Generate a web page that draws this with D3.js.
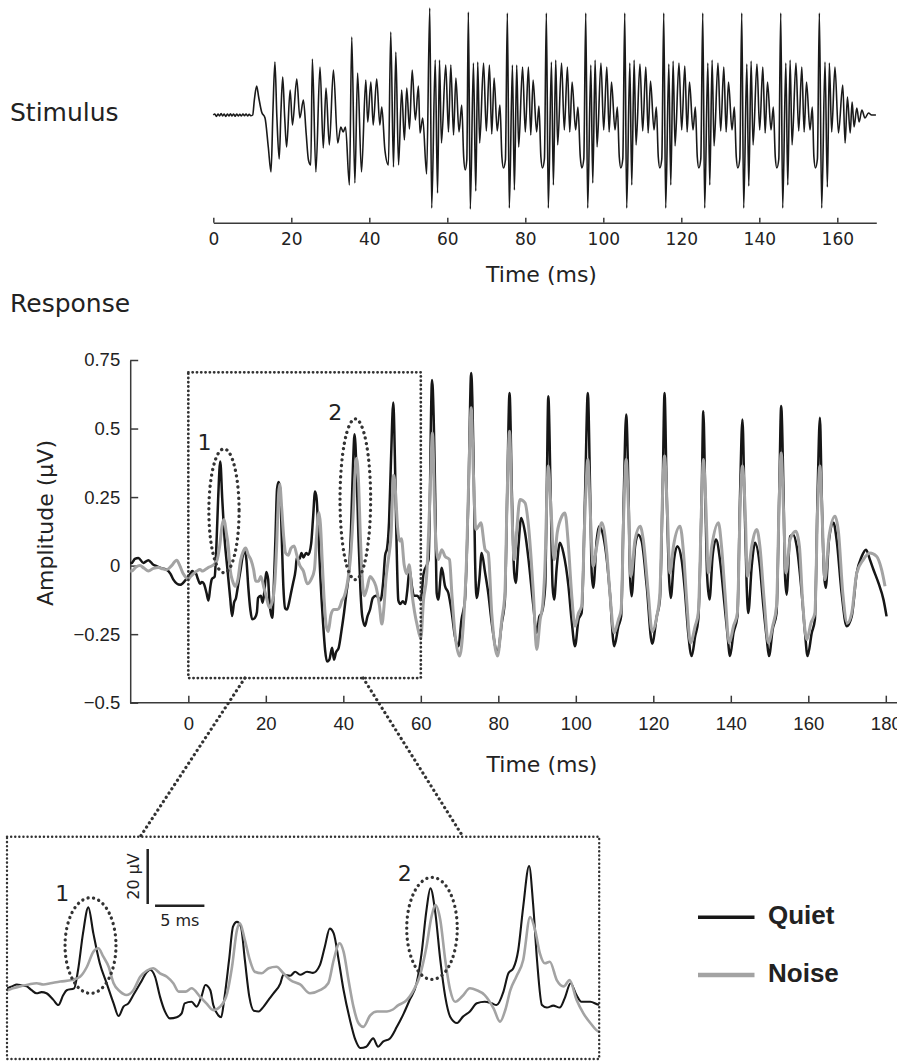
<!DOCTYPE html>
<html>
<head>
<meta charset="utf-8">
<title>stimulus and response</title>
<script src="https://d3js.org/d3.v7.min.js"></script>
<style>
  body { margin: 0; background: #fff; }
  text { fill: #222; }
</style>
</head>
<body>
<svg width="897" height="1061"></svg>
<script>

// stimulus waveform, [time ms, relative amplitude]
var stimulus = [
  [0,0],[0.4,0.01],[0.8,-0.015],[1.2,0.01],[1.6,-0.01],[2.0,0.015],[2.4,-0.01],[2.8,0.01],[3.2,-0.015],[3.6,0.01],
  [4.0,-0.01],[4.4,0.012],[4.8,-0.01],[5.2,0.01],[5.6,-0.012],[6.0,0.01],[6.4,-0.01],[6.8,0.008],[7.2,-0.01],[7.6,0.01],
  [8.0,-0.008],[8.4,0.01],[8.8,-0.01],[9.2,0.008],[9.6,-0.008],[10.1,0.0],
  [10.52,0.15],[11.12,0.29],[11.63,0.18],[12.4,0.03],[13.26,-0.03],[14.1,-0.32],[14.8,-0.57],[15.3,0.05],[15.8,0.53],
  [16.3,-0.02],[16.9,-0.44],[17.36,0.05],[17.8,0.38],[18.3,-0.02],[18.8,-0.32],[19.7,0.25],[20.3,-0.10],[21.4,0.36],
  [22.2,-0.03],[23.1,0.15],[23.8,-0.18],[24.4,-0.45],[25.0,-0.50],[25.4,0.56],[26.3,-0.57],[27.36,0.48],[28.2,-0.33],
  [28.9,0.27],[29.75,-0.30],[30.8,0.45],[31.9,-0.28],[32.7,-0.12],[33.3,-0.17],[33.9,-0.12],[34.9,-0.70],[35.5,0.78],
  [36.3,-0.68],[37.0,0.42],[38.0,-0.57],[39.1,0.35],[39.6,-0.07],[40.4,0.33],[41.0,-0.10],[41.9,0.36],[42.7,-0.10],
  [43.2,0.08],[44.0,-0.35],[44.9,-0.50],[45.5,0.83],[46.2,-0.52],[46.8,0.63],[47.5,-0.50],[48.3,0.25],[49.0,-0.25],
  [49.6,0.27],[50.3,-0.14],[51.0,0.45],[51.8,-0.05],[52.6,0.29],[53.0,-0.18],[53.7,-0.03],[54.7,-0.59],
  [55.5,1.07],[56.0,-0.93],[56.9,0.55],[57.5,-0.78],[58.0,0.55],[58.5,-0.28],[59.6,0.50],[60.3,-0.17],[60.9,0.50],[61.6,-0.20],[62.2,0.37],[63.0,-0.17],[63.7,0.10],[64.2,-0.42],[64.6,-0.55],[65.0,-0.45],
  [65.4,1.03],[65.9,-0.94],[66.7,0.52],[67.3,-0.76],[67.8,0.53],[68.3,-0.28],[69.3,0.52],[70.0,-0.16],[70.8,0.50],[71.4,-0.19],[72.0,0.37],[72.8,-0.16],[73.5,0.10],[74.0,-0.42],[74.4,-0.53],[74.9,-0.45],
  [75.4,1.02],[75.9,-0.93],[76.7,0.50],[77.2,-0.75],[77.8,0.50],[78.3,-0.32],[79.3,0.48],[80.0,-0.17],[80.8,0.48],[81.4,-0.20],[82.0,0.35],[82.9,-0.17],[83.5,0.09],[84.0,-0.42],[84.4,-0.53],[84.9,-0.44],
  [85.4,1.02],[85.9,-0.93],[86.7,0.53],[87.2,-0.70],[87.8,0.55],[88.3,-0.30],[89.3,0.52],[90.0,-0.15],[90.8,0.48],[91.4,-0.17],[92.0,0.33],[92.9,-0.15],[93.5,0.08],[94.1,-0.42],[94.5,-0.53],[95.0,-0.44],
  [95.5,1.02],[96.0,-0.93],[96.8,0.50],[97.3,-0.68],[97.9,0.55],[98.4,-0.32],[99.4,0.52],[100.1,-0.15],[100.9,0.48],[101.5,-0.17],[102.1,0.33],[103.0,-0.15],[103.6,0.08],[104.1,-0.42],[104.5,-0.53],[105.0,-0.44],
  [105.5,1.02],[106.0,-0.93],[106.8,0.52],[107.3,-0.70],[107.9,0.55],[108.4,-0.30],[109.4,0.51],[110.1,-0.16],[110.9,0.48],[111.5,-0.18],[112.1,0.34],[113.0,-0.15],[113.6,0.08],[114.1,-0.42],[114.5,-0.53],[115.0,-0.44],
  [115.5,1.02],[116.0,-0.93],[116.8,0.51],[117.3,-0.70],[117.9,0.54],[118.4,-0.31],[119.4,0.52],[120.1,-0.15],[120.9,0.49],[121.5,-0.17],[122.1,0.33],[123.0,-0.15],[123.6,0.08],[124.1,-0.42],[124.5,-0.53],[125.0,-0.44],
  [125.5,1.02],[126.0,-0.93],[126.8,0.52],[127.3,-0.70],[127.9,0.55],[128.4,-0.31],[129.4,0.52],[130.1,-0.16],[130.9,0.48],[131.5,-0.17],[132.1,0.33],[133.0,-0.15],[133.6,0.08],[134.1,-0.42],[134.5,-0.53],[135.0,-0.44],
  [135.5,1.02],[136.0,-0.93],[136.8,0.51],[137.3,-0.71],[137.9,0.54],[138.4,-0.30],[139.4,0.51],[140.1,-0.15],[140.9,0.48],[141.5,-0.18],[142.1,0.33],[143.0,-0.15],[143.6,0.08],[144.1,-0.42],[144.5,-0.53],[145.0,-0.44],
  [145.5,1.02],[146.0,-0.93],[146.8,0.52],[147.3,-0.70],[147.9,0.55],[148.4,-0.30],[149.4,0.52],[150.1,-0.16],[150.9,0.48],[151.5,-0.17],[152.1,0.33],[153.0,-0.15],[153.6,0.08],[154.0,-0.42],[154.4,-0.53],[154.9,-0.44],
  [155.4,1.02],[156.0,-0.93],[156.85,0.53],[157.45,-0.72],[157.96,0.52],[158.56,-0.17],[159.4,0.48],[160.3,-0.18],[161.4,0.30],
  [162.0,-0.28],[162.6,0.18],[163.3,-0.18],[163.8,0.13],[164.3,-0.12],[165.0,0.07],[165.6,-0.07],[166.3,0.05],[167.1,-0.03],
  [168.0,0.02],[168.8,0],[169.9,0]
];

// response in quiet, [time ms, amplitude]
var quiet = [
  [-15,0.01],[-14.6,0.01],[-13.8,0.025],[-12.9,0.028],[-11.6,0.01],[-10.3,0.02],[-9.2,0.005],[-8.2,-0.002],[-6.8,-0.01],
  [-5.6,-0.015],[-4.6,-0.03],[-3.9,-0.05],[-2.1,-0.07],[-0.85,-0.055],[0,-0.04],
  [0.5,-0.03],[1.0,-0.02],[1.5,-0.025],[2.0,-0.03],[2.5,-0.05],[3.0,-0.066],[3.5,-0.06],[4.0,-0.066],[4.7,-0.10],[5.2,-0.127],
  [5.7,-0.075],[6.05,-0.05],[6.8,-0.04],[7.2,0.055],[7.7,0.245],[8.24,0.38],[8.75,0.245],[9.4,0.09],[10.1,-0.014],[10.8,-0.118],
  [11.3,-0.184],[11.8,-0.135],[12.3,-0.118],[12.8,-0.075],[13.5,-0.014],[14.2,0.046],[14.5,0.056],[15.0,0.02],[15.5,-0.083],
  [16.0,-0.16],[16.5,-0.196],[17.2,-0.19],[17.7,-0.17],[18.0,-0.118],[18.7,-0.11],[19.2,-0.135],[19.7,-0.083],[20.1,-0.023],
  [20.6,-0.05],[20.9,-0.127],[21.4,-0.18],[21.7,-0.19],[22.0,-0.10],[22.5,0.107],[22.9,0.28],[23.3,0.305],[23.7,0.28],
  [24.1,0.107],[24.55,-0.083],[25.0,-0.156],[25.5,-0.16],[26.0,-0.135],[26.5,-0.10],[27.0,-0.066],[27.7,-0.014],[28.0,0.03],
  [28.7,0.025],[29.2,0.046],[29.7,0.03],[30.4,0.046],[31.0,0.04],[31.7,0.08],[32.2,0.176],[32.7,0.27],[33.1,0.245],[33.6,0.107],
  [34.1,-0.049],[34.75,-0.204],[35.3,-0.308],[35.8,-0.35],[36.4,-0.343],[37.1,-0.30],[37.6,-0.343],[38.1,-0.317],[38.8,-0.30],
  [39.5,-0.24],[40.2,-0.17],[40.8,-0.10],[41.5,-0.014],[42.0,0.14],[42.5,0.366],[42.9,0.479],[43.4,0.35],[43.9,0.107],
  [44.4,-0.083],[44.9,-0.187],[45.6,-0.22],[46.2,-0.187],[46.9,-0.16],[47.6,-0.118],[48.4,-0.11],[49.1,-0.118],[49.6,-0.127],
  [50.3,-0.057],[50.8,0.038],[51.3,0.064],[51.8,0.159],[52.3,0.383],[52.9,0.595],[53.3,0.40],[53.7,0.107],[54.2,-0.127],
  [54.7,-0.14],[55.35,-0.13],[56.0,-0.14],[56.5,-0.092],[57.1,-0.014],[57.7,-0.075],[58.2,-0.11],[59.1,-0.11],[60.0,-0.125],
  [60.7,-0.03],[62.0,0.022],[62.9,0.677],[63.7,0.265],[64.1,-0.10],[64.5,-0.124],[65.4,-0.008],[66.25,-0.075],[67.1,-0.1],
  [68.0,-0.173],[68.8,-0.258],[69.7,-0.294],[70.5,-0.197],[71.4,-0.124],[72.3,0.265],[73.0,0.703],[73.6,0.387],[74.0,0.022],
  [74.4,-0.118],[75.1,-0.051],[75.7,0.046],[76.6,-0.027],[77.4,-0.1],[78.3,-0.209],[79.8,-0.318],[80.9,-0.209],[81.7,-0.124],
  [82.3,0.265],[82.9,0.63],[83.5,0.265],[84.1,-0.027],[84.5,-0.063],[85.2,0.071],[85.9,0.174],[86.9,0.12],[87.8,0.022],
  [89.05,-0.148],[89.9,-0.245],[90.6,-0.185],[91.2,-0.173],[92.1,-0.075],[92.5,0.265],[92.9,0.618],[93.5,0.265],[94.0,-0.075],
  [94.4,-0.124],[95.1,-0.002],[95.9,0.083],[96.8,0.046],[98.1,-0.075],[98.9,-0.197],[99.8,-0.294],[100.7,-0.197],[101.5,-0.173],
  [102.4,0.265],[103.1,0.63],[103.7,0.265],[104.1,-0.027],[104.5,-0.081],[105.4,0.095],[106.0,0.144],[107.1,0.107],[108.0,0.022],
  [108.8,-0.1],[109.9,-0.294],[111.0,-0.221],[111.7,-0.185],[112.4,0.265],[113.0,0.551],[113.6,0.265],[114.0,-0.039],
  [114.4,-0.112],[115.3,0.071],[116.1,0.113],[117.0,0.089],[118.3,-0.075],[119.7,-0.285],[120.9,-0.185],[121.7,-0.124],
  [122.4,0.265],[122.9,0.63],[123.45,0.265],[124.05,-0.039],[124.5,-0.118],[125.35,0.022],[126.2,0.071],[127.3,0.022],
  [128.2,-0.1],[129.0,-0.245],[129.9,-0.33],[130.8,-0.258],[131.6,-0.197],[132.5,0.265],[132.9,0.563],[133.4,0.265],
  [133.9,-0.039],[134.5,-0.124],[135.3,0.034],[136.2,0.095],[137.2,0.022],[138.25,-0.124],[139.1,-0.245],[139.8,-0.33],
  [140.7,-0.245],[141.7,-0.185],[142.4,0.265],[143.0,0.533],[143.5,0.265],[144.1,-0.075],[144.5,-0.173],[145.4,-0.002],
  [146.25,0.083],[147.4,0.01],[148.4,-0.148],[149.3,-0.27],[149.85,-0.33],[150.8,-0.233],[151.8,-0.173],[152.5,0.265],
  [153.0,0.582],[153.6,0.265],[154.0,-0.039],[154.4,-0.106],[155.3,0.107],[156.1,0.113],[157.0,0.071],[158.3,-0.1],
  [159.15,-0.245],[159.8,-0.33],[160.9,-0.245],[161.7,-0.197],[162.4,0.265],[163.0,0.539],[163.45,0.265],[164.05,-0.027],
  [164.5,-0.081],[165.35,0.095],[166.5,0.156],[167.3,0.095],[168.6,-0.1],[169.9,-0.221],[171.2,-0.185],[172.5,-0.027],
  [173.8,0.034],[174.9,0.058],[175.9,0.022],[176.8,-0.014],[178.1,-0.063],[179.4,-0.124],[180.2,-0.185]
];

// response in noise, [time ms, amplitude]
var noise = [
  [-15,-0.02],[-14.6,-0.02],[-13.5,-0.005],[-12.5,0],[-11.4,-0.01],[-10.3,-0.02],[-9.0,-0.01],[-7.7,-0.007],[-6.6,-0.012],
  [-5.6,-0.015],[-4.3,0.0],[-3.0,0.02],[-2.2,0.0],[-1.3,-0.03],[-0.5,-0.045],
  [0,-0.05],[0.6,-0.04],[1.3,-0.03],[2.2,-0.02],[3.0,-0.014],[3.7,-0.02],[4.4,-0.014],[5.4,-0.005],[6.55,0.003],[7.4,0.02],
  [8.1,0.072],[8.75,0.15],[9.25,0.168],[9.76,0.124],[10.3,0.072],[10.8,-0.014],[11.45,-0.057],[12.1,-0.075],[12.8,-0.05],
  [13.5,0.02],[14.15,0.051],[14.8,0.064],[15.5,0.038],[16.2,0.02],[16.85,-0.014],[17.4,-0.057],[18.1,-0.057],[18.7,-0.04],
  [19.55,-0.083],[20.2,-0.118],[20.9,-0.153],[21.6,-0.135],[22.3,-0.066],[22.8,0.072],[23.3,0.263],[23.6,0.297],[24.1,0.21],
  [24.6,0.107],[25.1,0.046],[25.8,0.038],[26.5,0.064],[27.3,0.072],[28.0,0.038],[28.7,0.003],[29.7,-0.02],[30.7,-0.066],
  [31.7,-0.05],[32.55,-0.014],[33.1,0.107],[33.7,0.194],[34.1,0.15],[34.6,0.003],[35.1,-0.135],[35.6,-0.22],[36.1,-0.24],
  [36.8,-0.18],[37.5,-0.16],[38.5,-0.16],[39.1,-0.15],[39.65,-0.127],[40.3,-0.11],[41.2,-0.049],[41.8,0.02],[42.5,0.176],
  [43.0,0.33],[43.4,0.392],[43.9,0.315],[44.4,0.107],[44.9,-0.049],[45.4,-0.11],[46.1,-0.083],[46.9,-0.04],[47.6,-0.05],
  [48.4,-0.075],[49.3,-0.144],[49.95,-0.213],[50.5,-0.15],[51.0,-0.049],[51.6,0.02],[52.3,0.107],[53.0,0.33],[53.5,0.263],
  [54.0,0.14],[54.5,0.09],[55.0,0.098],[55.7,0.003],[56.4,-0.03],[57.0,0.003],[57.7,-0.10],[58.4,-0.17],[59.1,-0.22],[60.0,-0.265],
  [60.7,-0.124],[61.5,-0.039],[62.4,0.265],[63.0,0.484],[63.7,0.144],[64.5,0.022],[65.4,0.058],[66.25,0.034],[67.4,0.022],
  [68.0,-0.1],[68.8,-0.245],[70.0,-0.33],[71.0,-0.209],[71.8,0.022],[72.5,0.387],[73.0,0.576],[73.6,0.326],[74.2,0.132],
  [74.9,0.144],[75.5,0.156],[76.6,0.058],[77.4,0.046],[78.3,-0.173],[79.8,-0.33],[80.9,-0.197],[81.7,-0.1],[82.3,0.265],
  [82.9,0.49],[83.5,0.205],[84.1,0.022],[84.7,0.12],[85.6,0.241],[86.9,0.229],[87.8,0.144],[89.05,-0.1],[89.9,-0.306],
  [90.8,-0.197],[91.5,-0.136],[92.1,0.022],[92.5,0.241],[92.9,0.363],[93.6,0.205],[94.4,0.022],[95.2,0.12],[96.4,0.18],
  [97.2,0.192],[98.1,0.071],[98.9,-0.1],[99.8,-0.221],[100.7,-0.173],[101.5,-0.148],[102.4,0.205],[103.1,0.387],[103.7,0.205],
  [104.5,-0.002],[105.4,0.071],[106.7,0.156],[108.0,0.046],[108.8,-0.1],[109.9,-0.245],[111.0,-0.197],[111.7,-0.16],
  [112.4,0.205],[113.0,0.387],[113.6,0.205],[114.2,-0.039],[115.3,0.095],[116.6,0.144],[117.4,0.095],[118.7,-0.1],
  [119.7,-0.24],[120.9,-0.185],[121.7,-0.1],[122.4,0.265],[122.9,0.40],[123.6,0.205],[124.3,-0.027],[125.2,0.071],
  [126.9,0.144],[127.8,0.046],[128.6,-0.124],[129.6,-0.282],[130.8,-0.221],[131.6,-0.173],[132.5,0.241],[132.9,0.387],
  [133.6,0.205],[134.2,-0.027],[135.1,0.071],[136.8,0.156],[137.6,0.071],[138.5,-0.1],[139.6,-0.282],[140.7,-0.221],
  [141.7,-0.173],[142.4,0.205],[143.0,0.363],[143.7,0.205],[144.3,-0.039],[145.4,0.071],[146.7,0.132],[147.5,0.071],
  [148.6,-0.124],[149.7,-0.282],[150.8,-0.221],[151.8,-0.148],[152.5,0.241],[153.0,0.411],[153.6,0.205],[154.25,-0.027],
  [155.3,0.095],[156.8,0.125],[157.7,0.071],[158.5,-0.124],[159.6,-0.27],[160.7,-0.209],[161.7,-0.173],[162.4,0.205],
  [163.0,0.363],[163.6,0.168],[164.3,-0.051],[165.35,0.107],[166.9,0.18],[167.8,0.12],[168.9,-0.1],[170.1,-0.209],
  [171.2,-0.173],[172.5,-0.027],[174.2,0.022],[175.9,0.046],[177.6,0.034],[178.9,-0.014],[179.8,-0.075]
];

var stimTicks = [0, 20, 40, 60, 80, 100, 120, 140, 160];
var respXTicks = [0, 20, 40, 60, 80, 100, 120, 140, 160, 180];
var respYTicks = [-0.5, -0.25, 0, 0.25, 0.5, 0.75];

// marked peaks: centre (t, v), half sizes (rt, rv), label spot (lt, lv)
var mainOvals = [
  {label: "1", t: 9.2, v: 0.2, rt: 3.9, rv: 0.226, lt: 4.2, lv: 0.423},
  {label: "2", t: 43.1, v: 0.242, rt: 3.95, rv: 0.293, lt: 37.9, lv: 0.53}
];
var insetOvals = [
  {label: "1", t: 8.46, v: 0.182, rt: 2.58, rv: 0.248, lt: 5.6, lv: 0.413},
  {label: "2", t: 43.06, v: 0.271, rt: 2.56, rv: 0.265, lt: 40.3, lv: 0.517}
];

var series = [
  {name: "Quiet", data: quiet, color: "#161616", main: 2.5, inset: 2.1, key: 3.5},
  {name: "Noise", data: noise, color: "#a3a3a3", main: 3.0, inset: 2.6, key: 4.5}
];

var svg = d3.select("svg");
var ink = "#3a3a3a";
var dejavu = "DejaVu Sans";
var arial = "Liberation Sans";

// ---------- stimulus ----------
var sx = d3.scaleLinear().domain([0, 170]).range([213.3, 876.3]);
var sy = d3.scaleLinear().domain([-1, 1.1]).range([215, 5]);

svg.append("text").attr("x", 10).attr("y", 120.5)
    .attr("font-family", dejavu).attr("font-size", 25).text("Stimulus");

svg.append("path").datum(stimulus)
    .attr("fill", "none").attr("stroke", "#1a1a1a").attr("stroke-width", 1.6)
    .attr("stroke-linejoin", "round")
    .attr("d", d3.line().x(function (d){ return sx(d[0]); }).y(function (d){ return sy(d[1]); })
        .curve(d3.curveMonotoneX));

var sAxis = svg.append("g").attr("transform", "translate(0,222.7)")
    .call(d3.axisBottom(sx).tickValues(stimTicks).tickSizeInner(-5).tickSizeOuter(0)
        .tickPadding(10).tickFormat(d3.format("d")));
sAxis.attr("font-family", dejavu).attr("font-size", 17);
sAxis.selectAll("path, line").attr("stroke", ink).attr("stroke-width", 1.5);
sAxis.selectAll("text").attr("fill", "#222");

svg.append("text").attr("x", 541.5).attr("y", 281.5).attr("text-anchor", "middle")
    .attr("font-family", dejavu).attr("font-size", 22).text("Time (ms)");

svg.append("text").attr("x", 10).attr("y", 312)
    .attr("font-family", dejavu).attr("font-size", 25).text("Response");

// ---------- response ----------
var rx = d3.scaleLinear().domain([-15, 180]).range([130.2, 885.8]);
var ry = d3.scaleLinear().domain([-0.5, 0.75]).range([702.7, 360]);

var xAxis = svg.append("g").attr("transform", "translate(0,702.7)")
    .call(d3.axisBottom(rx).tickValues(respXTicks).tickSizeInner(-7).tickSizeOuter(0)
        .tickPadding(14).tickFormat(d3.format("d")));
xAxis.select(".domain").remove();
xAxis.append("line").attr("x1", 130.2).attr("x2", 897).attr("stroke", ink).attr("stroke-width", 1.5);
xAxis.attr("font-family", arial).attr("font-size", 18.5);
xAxis.selectAll("line").attr("stroke", ink).attr("stroke-width", 1.5);
xAxis.selectAll("text").attr("fill", "#222");

var yAxis = svg.append("g").attr("transform", "translate(130.2,0)")
    .call(d3.axisLeft(ry).tickValues(respYTicks).tickSizeInner(-8).tickSizeOuter(0)
        .tickPadding(10).tickFormat(d3.format("~g")));
yAxis.attr("font-family", arial).attr("font-size", 18.5);
yAxis.selectAll("path, line").attr("stroke", ink).attr("stroke-width", 1.5);
yAxis.selectAll("text").attr("fill", "#222");

svg.append("text").attr("x", 542).attr("y", 771.5).attr("text-anchor", "middle")
    .attr("font-family", dejavu).attr("font-size", 22).text("Time (ms)");

svg.append("text").attr("transform", "translate(45,523) rotate(-90)")
    .attr("text-anchor", "middle").attr("dy", "0.35em")
    .attr("font-family", dejavu).attr("font-size", 22).text("Amplitude (µV)");

var mainLine = d3.line().x(function (d){ return rx(d[0]); }).y(function (d){ return ry(d[1]); })
    .curve(d3.curveMonotoneX);

svg.append("g").selectAll("path").data(series).enter().append("path")
    .attr("fill", "none")
    .attr("stroke", function (d){ return d.color; })
    .attr("stroke-width", function (d){ return d.main; })
    .attr("stroke-linejoin", "round")
    .attr("d", function (d){ return mainLine(d.data); });

// zoom box on the first 60 ms
var dotted = function (sel, w, gap){
    return sel.attr("fill", "none").attr("stroke", "#333").attr("stroke-width", w)
        .attr("stroke-linecap", "round").attr("stroke-dasharray", "0.1 " + gap);
};

dotted(svg.append("rect")
    .attr("x", rx(0)).attr("y", ry(0.705))
    .attr("width", rx(60) - rx(0)).attr("height", ry(-0.41) - ry(0.705)), 2.8, 4.2);

function drawOvals(g, data, x, y, fontSize){
    data.forEach(function (o){
        dotted(g.append("ellipse")
            .attr("cx", x(o.t)).attr("cy", y(o.v))
            .attr("rx", x(o.t + o.rt) - x(o.t)).attr("ry", y(o.v) - y(o.v + o.rv)), 3.3, 5.5);
        g.append("text").attr("x", x(o.lt)).attr("y", y(o.lv)).attr("text-anchor", "middle")
            .attr("font-family", dejavu).attr("font-size", fontSize).text(o.label);
    });
}
drawOvals(svg.append("g"), mainOvals, rx, ry, 22);

// ---------- inset ----------
var ix = d3.scaleLinear().domain([0, 60]).range([7, 599.2]);
var iy = d3.scaleLinear().domain([0, 0.6]).range([980.6, 865]);
var insetTop = iy(0.747), insetBottom = iy(-0.407);

dotted(svg.append("line").attr("x1", rx(14.6)).attr("y1", ry(-0.41))
    .attr("x2", ix(13.5)).attr("y2", insetTop), 3.2, 5);
dotted(svg.append("line").attr("x1", rx(45.1)).attr("y1", ry(-0.41))
    .attr("x2", ix(46.2)).attr("y2", insetTop), 3.2, 5);

svg.append("clipPath").attr("id", "insetClip").append("rect")
    .attr("x", ix(0)).attr("y", insetTop).attr("width", ix(60) - ix(0)).attr("height", insetBottom - insetTop);

var insetLine = d3.line().x(function (d){ return ix(d[0]); }).y(function (d){ return iy(d[1]); })
    .curve(d3.curveMonotoneX);

svg.append("g").attr("clip-path", "url(#insetClip)")
    .selectAll("path").data(series).enter().append("path")
    .attr("fill", "none")
    .attr("stroke", function (d){ return d.color; })
    .attr("stroke-width", function (d){ return d.inset; })
    .attr("stroke-linejoin", "round")
    .attr("d", function (d){ return insetLine(d.data.filter(function (p){ return p[0] >= -1 && p[0] <= 61; })); });

dotted(svg.append("rect").attr("x", ix(0)).attr("y", insetTop)
    .attr("width", ix(60) - ix(0)).attr("height", insetBottom - insetTop), 2.4, 4);

drawOvals(svg.append("g"), insetOvals, ix, iy, 22);

// scale bars
var barX = 147.7, barTop = 849, barBottom = 904;
svg.append("line").attr("x1", barX).attr("x2", barX).attr("y1", barTop).attr("y2", barBottom)
    .attr("stroke", "#222").attr("stroke-width", 2.5);
svg.append("line").attr("x1", ix(15)).attr("x2", ix(20)).attr("y1", 905.7).attr("y2", 905.7)
    .attr("stroke", "#222").attr("stroke-width", 2.5);
svg.append("text").attr("transform", "translate(133,876.5) rotate(-90)")
    .attr("text-anchor", "middle").attr("dy", "0.35em")
    .attr("font-family", dejavu).attr("font-size", 16).text("20 µV");
svg.append("text").attr("x", (ix(15) + ix(20)) / 2).attr("y", 926).attr("text-anchor", "middle")
    .attr("font-family", dejavu).attr("font-size", 16).text("5 ms");

// ---------- legend ----------
var legend = svg.append("g").selectAll("g").data(series).enter().append("g")
    .attr("transform", function (d, i){ return "translate(698," + (917.3 + i * 57.7) + ")"; });
legend.append("line").attr("x1", 0).attr("x2", 56.5)
    .attr("stroke", function (d){ return d.color; })
    .attr("stroke-width", function (d){ return d.key; });
legend.append("text").attr("x", 70).attr("y", 7)
    .attr("font-family", arial).attr("font-weight", "bold").attr("font-size", 26)
    .text(function (d){ return d.name; });

</script>
</body>
</html>
